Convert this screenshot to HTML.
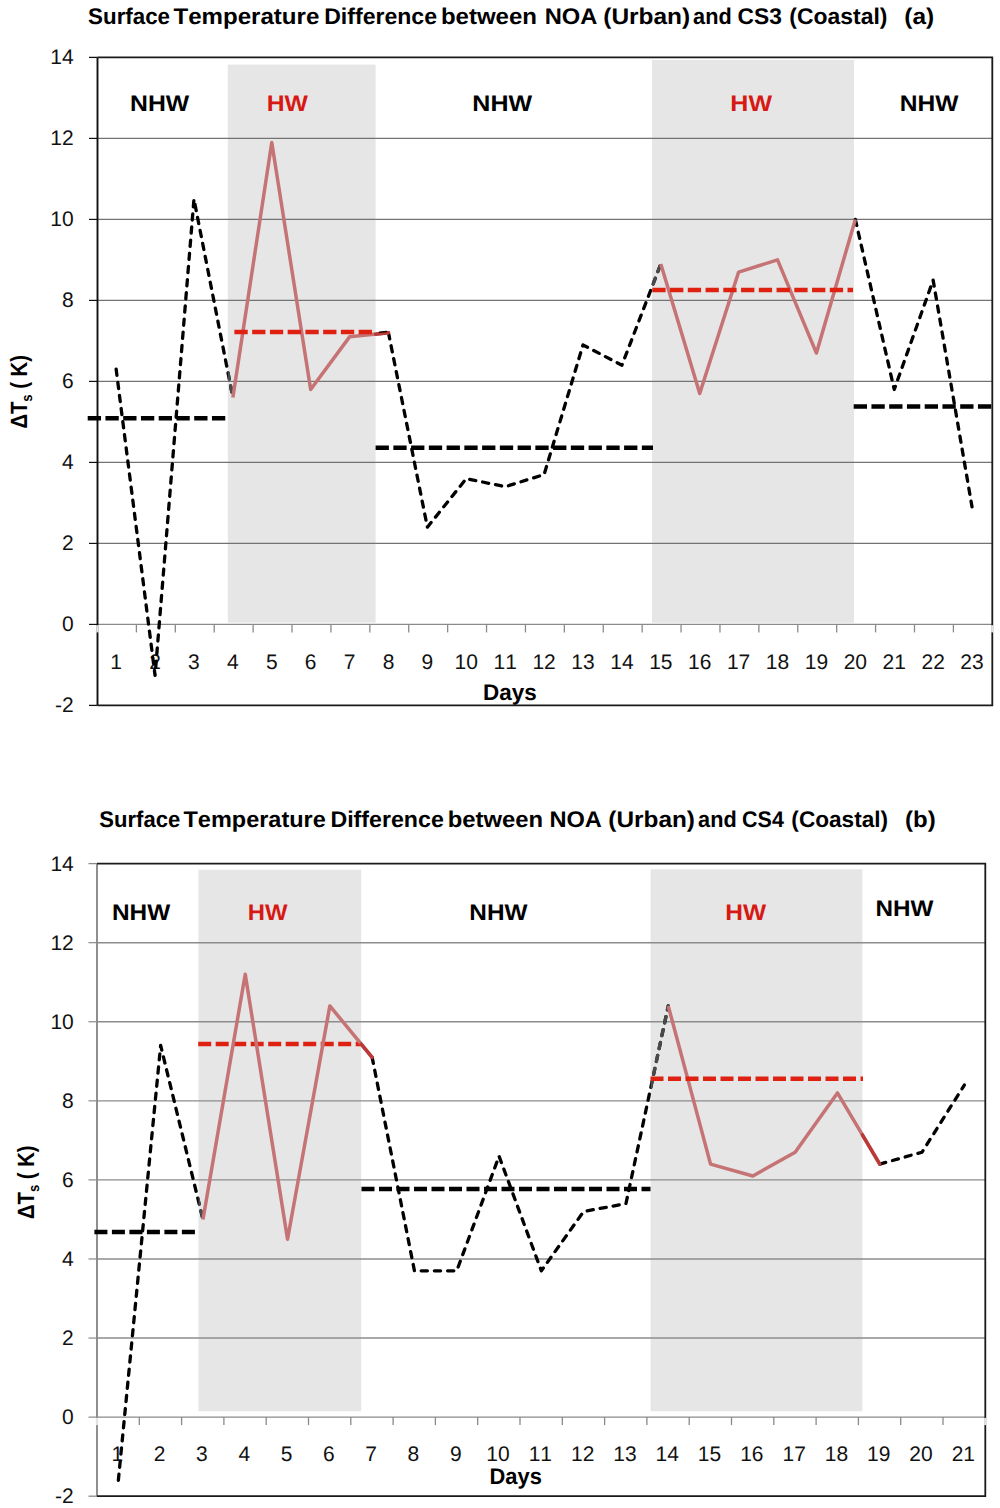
<!DOCTYPE html>
<html><head><meta charset="utf-8"><title>Surface Temperature Difference</title>
<style>html,body{margin:0;padding:0;background:#fff}svg{display:block}text{font-family:"Liberation Sans",sans-serif;text-rendering:geometricPrecision;font-kerning:none}</style>
</head><body>
<svg width="1000" height="1508" viewBox="0 0 1000 1508">
<rect width="1000" height="1508" fill="#fff"/>
<rect x="227.8" y="64.6" width="147.8" height="558" fill="#e6e6e6"/>
<rect x="652" y="60" width="202" height="562.8" fill="#e6e6e6"/>
<line x1="97.5" y1="138.4" x2="992.3" y2="138.4" stroke="#737373" stroke-width="1.1"/>
<line x1="89" y1="138.4" x2="97.5" y2="138.4" stroke="#111" stroke-width="1.2"/>
<line x1="97.5" y1="219.4" x2="992.3" y2="219.4" stroke="#737373" stroke-width="1.1"/>
<line x1="89" y1="219.4" x2="97.5" y2="219.4" stroke="#111" stroke-width="1.2"/>
<line x1="97.5" y1="300.4" x2="992.3" y2="300.4" stroke="#737373" stroke-width="1.1"/>
<line x1="89" y1="300.4" x2="97.5" y2="300.4" stroke="#111" stroke-width="1.2"/>
<line x1="97.5" y1="381.4" x2="992.3" y2="381.4" stroke="#737373" stroke-width="1.1"/>
<line x1="89" y1="381.4" x2="97.5" y2="381.4" stroke="#111" stroke-width="1.2"/>
<line x1="97.5" y1="462.4" x2="992.3" y2="462.4" stroke="#737373" stroke-width="1.1"/>
<line x1="89" y1="462.4" x2="97.5" y2="462.4" stroke="#111" stroke-width="1.2"/>
<line x1="97.5" y1="543.4" x2="992.3" y2="543.4" stroke="#737373" stroke-width="1.1"/>
<line x1="89" y1="543.4" x2="97.5" y2="543.4" stroke="#111" stroke-width="1.2"/>
<line x1="97.5" y1="624.4" x2="992.3" y2="624.4" stroke="#8a8a8a" stroke-width="1.3"/>
<line x1="89" y1="624.4" x2="97.5" y2="624.4" stroke="#111" stroke-width="1.2"/>
<line x1="136.4" y1="624.4" x2="136.4" y2="632.4" stroke="#8a8a8a" stroke-width="1.3"/>
<line x1="175.31" y1="624.4" x2="175.31" y2="632.4" stroke="#8a8a8a" stroke-width="1.3"/>
<line x1="214.21" y1="624.4" x2="214.21" y2="632.4" stroke="#8a8a8a" stroke-width="1.3"/>
<line x1="253.12" y1="624.4" x2="253.12" y2="632.4" stroke="#8a8a8a" stroke-width="1.3"/>
<line x1="292.02" y1="624.4" x2="292.02" y2="632.4" stroke="#8a8a8a" stroke-width="1.3"/>
<line x1="330.93" y1="624.4" x2="330.93" y2="632.4" stroke="#8a8a8a" stroke-width="1.3"/>
<line x1="369.83" y1="624.4" x2="369.83" y2="632.4" stroke="#8a8a8a" stroke-width="1.3"/>
<line x1="408.73" y1="624.4" x2="408.73" y2="632.4" stroke="#8a8a8a" stroke-width="1.3"/>
<line x1="447.64" y1="624.4" x2="447.64" y2="632.4" stroke="#8a8a8a" stroke-width="1.3"/>
<line x1="486.54" y1="624.4" x2="486.54" y2="632.4" stroke="#8a8a8a" stroke-width="1.3"/>
<line x1="525.45" y1="624.4" x2="525.45" y2="632.4" stroke="#8a8a8a" stroke-width="1.3"/>
<line x1="564.35" y1="624.4" x2="564.35" y2="632.4" stroke="#8a8a8a" stroke-width="1.3"/>
<line x1="603.26" y1="624.4" x2="603.26" y2="632.4" stroke="#8a8a8a" stroke-width="1.3"/>
<line x1="642.16" y1="624.4" x2="642.16" y2="632.4" stroke="#8a8a8a" stroke-width="1.3"/>
<line x1="681.07" y1="624.4" x2="681.07" y2="632.4" stroke="#8a8a8a" stroke-width="1.3"/>
<line x1="719.97" y1="624.4" x2="719.97" y2="632.4" stroke="#8a8a8a" stroke-width="1.3"/>
<line x1="758.87" y1="624.4" x2="758.87" y2="632.4" stroke="#8a8a8a" stroke-width="1.3"/>
<line x1="797.78" y1="624.4" x2="797.78" y2="632.4" stroke="#8a8a8a" stroke-width="1.3"/>
<line x1="836.68" y1="624.4" x2="836.68" y2="632.4" stroke="#8a8a8a" stroke-width="1.3"/>
<line x1="875.59" y1="624.4" x2="875.59" y2="632.4" stroke="#8a8a8a" stroke-width="1.3"/>
<line x1="914.49" y1="624.4" x2="914.49" y2="632.4" stroke="#8a8a8a" stroke-width="1.3"/>
<line x1="953.4" y1="624.4" x2="953.4" y2="632.4" stroke="#8a8a8a" stroke-width="1.3"/>
<line x1="97.5" y1="57.4" x2="97.5" y2="705.4" stroke="#111" stroke-width="1.9"/>
<line x1="89" y1="57.4" x2="97.5" y2="57.4" stroke="#111" stroke-width="1.3"/>
<line x1="89" y1="705.4" x2="97.5" y2="705.4" stroke="#111" stroke-width="1.3"/>
<path d="M97.5 57.4 H992.3 V705.4 H97.5" fill="none" stroke="#1a1a1a" stroke-width="1.8"/>
<line x1="97.5" y1="625.2" x2="97.5" y2="632.4" stroke="#e4e4e4" stroke-width="2.4"/>
<line x1="992.3" y1="625.2" x2="992.3" y2="632.4" stroke="#e4e4e4" stroke-width="2.4"/>
<text x="73.6" y="63.9" font-size="21" text-anchor="end" fill="#111">14</text>
<text x="73.6" y="144.9" font-size="21" text-anchor="end" fill="#111">12</text>
<text x="73.6" y="225.9" font-size="21" text-anchor="end" fill="#111">10</text>
<text x="73.6" y="306.9" font-size="21" text-anchor="end" fill="#111">8</text>
<text x="73.6" y="387.9" font-size="21" text-anchor="end" fill="#111">6</text>
<text x="73.6" y="468.9" font-size="21" text-anchor="end" fill="#111">4</text>
<text x="73.6" y="549.9" font-size="21" text-anchor="end" fill="#111">2</text>
<text x="73.6" y="630.9" font-size="21" text-anchor="end" fill="#111">0</text>
<text x="73.6" y="711.9" font-size="21" text-anchor="end" fill="#111">-2</text>
<text x="116.15" y="669.3" font-size="21" text-anchor="middle" fill="#111">1</text>
<text x="155.06" y="669.3" font-size="21" text-anchor="middle" fill="#111">2</text>
<text x="193.96" y="669.3" font-size="21" text-anchor="middle" fill="#111">3</text>
<text x="232.87" y="669.3" font-size="21" text-anchor="middle" fill="#111">4</text>
<text x="271.77" y="669.3" font-size="21" text-anchor="middle" fill="#111">5</text>
<text x="310.67" y="669.3" font-size="21" text-anchor="middle" fill="#111">6</text>
<text x="349.58" y="669.3" font-size="21" text-anchor="middle" fill="#111">7</text>
<text x="388.48" y="669.3" font-size="21" text-anchor="middle" fill="#111">8</text>
<text x="427.39" y="669.3" font-size="21" text-anchor="middle" fill="#111">9</text>
<text x="466.29" y="669.3" font-size="21" text-anchor="middle" fill="#111">10</text>
<text x="505.2" y="669.3" font-size="21" text-anchor="middle" fill="#111">11</text>
<text x="544.1" y="669.3" font-size="21" text-anchor="middle" fill="#111">12</text>
<text x="583" y="669.3" font-size="21" text-anchor="middle" fill="#111">13</text>
<text x="621.91" y="669.3" font-size="21" text-anchor="middle" fill="#111">14</text>
<text x="660.81" y="669.3" font-size="21" text-anchor="middle" fill="#111">15</text>
<text x="699.72" y="669.3" font-size="21" text-anchor="middle" fill="#111">16</text>
<text x="738.62" y="669.3" font-size="21" text-anchor="middle" fill="#111">17</text>
<text x="777.53" y="669.3" font-size="21" text-anchor="middle" fill="#111">18</text>
<text x="816.43" y="669.3" font-size="21" text-anchor="middle" fill="#111">19</text>
<text x="855.33" y="669.3" font-size="21" text-anchor="middle" fill="#111">20</text>
<text x="894.24" y="669.3" font-size="21" text-anchor="middle" fill="#111">21</text>
<text x="933.14" y="669.3" font-size="21" text-anchor="middle" fill="#111">22</text>
<text x="972.05" y="669.3" font-size="21" text-anchor="middle" fill="#111">23</text>
<clipPath id="ga"><rect x="227.8" y="64.6" width="147.8" height="558"/><rect x="652" y="60" width="202" height="562.8"/></clipPath>
<path d="M116.15 369.25 L155.06 675.43 L193.96 199.15 L232.87 397.6" fill="none" stroke-width="3.3" stroke-dasharray="6.2 7" stroke-linecap="round" stroke-linejoin="round" stroke="#000000"/>
<path d="M116.15 369.25 L155.06 675.43 L193.96 199.15 L232.87 397.6" fill="none" stroke-width="3.3" stroke-dasharray="6.2 7" stroke-linecap="round" stroke-linejoin="round" stroke="#4a4a4a" clip-path="url(#ga)"/>
<path d="M388.48 332.8 L427.39 527.2 L466.29 478.6 L505.2 486.7 L544.1 474.55 L583 344.95 L621.91 365.2 L660.81 263.95" fill="none" stroke-width="3.3" stroke-dasharray="6.2 7" stroke-linecap="round" stroke-linejoin="round" stroke="#000000"/>
<path d="M388.48 332.8 L427.39 527.2 L466.29 478.6 L505.2 486.7 L544.1 474.55 L583 344.95 L621.91 365.2 L660.81 263.95" fill="none" stroke-width="3.3" stroke-dasharray="6.2 7" stroke-linecap="round" stroke-linejoin="round" stroke="#4a4a4a" clip-path="url(#ga)"/>
<path d="M855.33 219.4 L894.24 389.5 L933.14 280.15 L972.05 506.95" fill="none" stroke-width="3.3" stroke-dasharray="6.2 7" stroke-linecap="round" stroke-linejoin="round" stroke="#000000"/>
<path d="M855.33 219.4 L894.24 389.5 L933.14 280.15 L972.05 506.95" fill="none" stroke-width="3.3" stroke-dasharray="6.2 7" stroke-linecap="round" stroke-linejoin="round" stroke="#4a4a4a" clip-path="url(#ga)"/>
<path d="M232.87 397.6 L271.77 142.45 L310.67 389.5 L349.58 336.85 L388.48 332.8" fill="none" stroke="#c57374" stroke-width="3.5" stroke-linejoin="round"/>
<path d="M660.81 263.95 L699.72 393.55 L738.62 272.05 L777.53 259.9 L816.43 353.05 L855.33 219.4" fill="none" stroke="#c57374" stroke-width="3.5" stroke-linejoin="round"/>
<line x1="375.6" y1="334.14" x2="388.48" y2="332.8" stroke="#bb3a38" stroke-width="3.5" stroke-linecap="round"/>
<line x1="379.5" y1="332.3" x2="386.5" y2="331.5" stroke="#1a0a0a" stroke-width="1.6" stroke-linecap="round"/>
<line x1="87.7" y1="418.25" x2="226" y2="418.25" stroke="#000000" stroke-width="4.6" stroke-dasharray="13.3 4.45"/>
<line x1="234.4" y1="331.99" x2="372.5" y2="331.99" stroke="#de2110" stroke-width="4.6" stroke-dasharray="13.3 4.45"/>
<line x1="375.6" y1="447.82" x2="653" y2="447.82" stroke="#000000" stroke-width="4.6" stroke-dasharray="13.3 4.45"/>
<line x1="652.3" y1="290.07" x2="853" y2="290.07" stroke="#de2110" stroke-width="4.6" stroke-dasharray="13.3 4.45"/>
<line x1="853.7" y1="406.51" x2="992" y2="406.51" stroke="#000000" stroke-width="4.6" stroke-dasharray="13.3 4.45"/>
<text x="88.11" y="23.8" font-size="22.7" font-weight="bold" fill="#000" textLength="81.91" lengthAdjust="spacingAndGlyphs">Surface</text>
<text x="173.48" y="23.8" font-size="22.7" font-weight="bold" fill="#000" textLength="145.84" lengthAdjust="spacingAndGlyphs">Temperature</text>
<text x="324.21" y="23.8" font-size="22.7" font-weight="bold" fill="#000" textLength="112.83" lengthAdjust="spacingAndGlyphs">Difference</text>
<text x="440.92" y="23.8" font-size="22.7" font-weight="bold" fill="#000" textLength="96.07" lengthAdjust="spacingAndGlyphs">between</text>
<text x="544.66" y="23.8" font-size="22.7" font-weight="bold" fill="#000" textLength="52.71" lengthAdjust="spacingAndGlyphs">NOA</text>
<text x="603.28" y="23.8" font-size="22.7" font-weight="bold" fill="#000" textLength="86.94" lengthAdjust="spacingAndGlyphs">(Urban)</text>
<text x="693.11" y="23.8" font-size="22.7" font-weight="bold" fill="#000" textLength="38.57" lengthAdjust="spacingAndGlyphs">and</text>
<text x="737.57" y="23.8" font-size="22.7" font-weight="bold" fill="#000" textLength="44.26" lengthAdjust="spacingAndGlyphs">CS3</text>
<text x="789.36" y="23.8" font-size="22.7" font-weight="bold" fill="#000" textLength="98.03" lengthAdjust="spacingAndGlyphs">(Coastal)</text>
<text x="904.28" y="23.8" font-size="22.7" font-weight="bold" fill="#000" textLength="29.94" lengthAdjust="spacingAndGlyphs">(a)</text>
<text x="130.09" y="111.3" font-size="22.7" font-weight="bold" fill="#000" textLength="59.18" lengthAdjust="spacingAndGlyphs">NHW</text>
<text x="266.74" y="111.3" font-size="22.7" font-weight="bold" fill="#d71914" textLength="41.28" lengthAdjust="spacingAndGlyphs">HW</text>
<text x="472.33" y="111.3" font-size="22.7" font-weight="bold" fill="#000" textLength="59.7" lengthAdjust="spacingAndGlyphs">NHW</text>
<text x="730.33" y="111.3" font-size="22.7" font-weight="bold" fill="#d71914" textLength="41.7" lengthAdjust="spacingAndGlyphs">HW</text>
<text x="899.86" y="111.3" font-size="22.7" font-weight="bold" fill="#000" textLength="58.67" lengthAdjust="spacingAndGlyphs">NHW</text>
<text x="483" y="700" font-size="22.7" font-weight="bold" fill="#000" textLength="53.67" lengthAdjust="spacingAndGlyphs">Days</text>
<rect x="198.5" y="869.7" width="162.7" height="541.5" fill="#e6e6e6"/>
<rect x="650.6" y="869.3" width="211.8" height="541.9" fill="#e6e6e6"/>
<line x1="97" y1="942.68" x2="985.3" y2="942.68" stroke="#8c8c8c" stroke-width="1.4"/>
<line x1="88.5" y1="942.68" x2="97" y2="942.68" stroke="#8a8a8a" stroke-width="1.2"/>
<line x1="97" y1="1021.75" x2="985.3" y2="1021.75" stroke="#8c8c8c" stroke-width="1.4"/>
<line x1="88.5" y1="1021.75" x2="97" y2="1021.75" stroke="#8a8a8a" stroke-width="1.2"/>
<line x1="97" y1="1100.83" x2="985.3" y2="1100.83" stroke="#8c8c8c" stroke-width="1.4"/>
<line x1="88.5" y1="1100.83" x2="97" y2="1100.83" stroke="#8a8a8a" stroke-width="1.2"/>
<line x1="97" y1="1179.9" x2="985.3" y2="1179.9" stroke="#8c8c8c" stroke-width="1.4"/>
<line x1="88.5" y1="1179.9" x2="97" y2="1179.9" stroke="#8a8a8a" stroke-width="1.2"/>
<line x1="97" y1="1258.97" x2="985.3" y2="1258.97" stroke="#8c8c8c" stroke-width="1.4"/>
<line x1="88.5" y1="1258.97" x2="97" y2="1258.97" stroke="#8a8a8a" stroke-width="1.2"/>
<line x1="97" y1="1338.05" x2="985.3" y2="1338.05" stroke="#8c8c8c" stroke-width="1.4"/>
<line x1="88.5" y1="1338.05" x2="97" y2="1338.05" stroke="#8a8a8a" stroke-width="1.2"/>
<line x1="97" y1="1417.12" x2="985.3" y2="1417.12" stroke="#8a8a8a" stroke-width="1.3"/>
<line x1="88.5" y1="1417.12" x2="97" y2="1417.12" stroke="#8a8a8a" stroke-width="1.2"/>
<line x1="139.3" y1="1417.12" x2="139.3" y2="1425.12" stroke="#8a8a8a" stroke-width="1.3"/>
<line x1="181.6" y1="1417.12" x2="181.6" y2="1425.12" stroke="#8a8a8a" stroke-width="1.3"/>
<line x1="223.9" y1="1417.12" x2="223.9" y2="1425.12" stroke="#8a8a8a" stroke-width="1.3"/>
<line x1="266.2" y1="1417.12" x2="266.2" y2="1425.12" stroke="#8a8a8a" stroke-width="1.3"/>
<line x1="308.5" y1="1417.12" x2="308.5" y2="1425.12" stroke="#8a8a8a" stroke-width="1.3"/>
<line x1="350.8" y1="1417.12" x2="350.8" y2="1425.12" stroke="#8a8a8a" stroke-width="1.3"/>
<line x1="393.1" y1="1417.12" x2="393.1" y2="1425.12" stroke="#8a8a8a" stroke-width="1.3"/>
<line x1="435.4" y1="1417.12" x2="435.4" y2="1425.12" stroke="#8a8a8a" stroke-width="1.3"/>
<line x1="477.7" y1="1417.12" x2="477.7" y2="1425.12" stroke="#8a8a8a" stroke-width="1.3"/>
<line x1="520" y1="1417.12" x2="520" y2="1425.12" stroke="#8a8a8a" stroke-width="1.3"/>
<line x1="562.3" y1="1417.12" x2="562.3" y2="1425.12" stroke="#8a8a8a" stroke-width="1.3"/>
<line x1="604.6" y1="1417.12" x2="604.6" y2="1425.12" stroke="#8a8a8a" stroke-width="1.3"/>
<line x1="646.9" y1="1417.12" x2="646.9" y2="1425.12" stroke="#8a8a8a" stroke-width="1.3"/>
<line x1="689.2" y1="1417.12" x2="689.2" y2="1425.12" stroke="#8a8a8a" stroke-width="1.3"/>
<line x1="731.5" y1="1417.12" x2="731.5" y2="1425.12" stroke="#8a8a8a" stroke-width="1.3"/>
<line x1="773.8" y1="1417.12" x2="773.8" y2="1425.12" stroke="#8a8a8a" stroke-width="1.3"/>
<line x1="816.1" y1="1417.12" x2="816.1" y2="1425.12" stroke="#8a8a8a" stroke-width="1.3"/>
<line x1="858.4" y1="1417.12" x2="858.4" y2="1425.12" stroke="#8a8a8a" stroke-width="1.3"/>
<line x1="900.7" y1="1417.12" x2="900.7" y2="1425.12" stroke="#8a8a8a" stroke-width="1.3"/>
<line x1="943" y1="1417.12" x2="943" y2="1425.12" stroke="#8a8a8a" stroke-width="1.3"/>
<line x1="97" y1="863.6" x2="97" y2="1496.2" stroke="#8a8a8a" stroke-width="1.9"/>
<line x1="88.5" y1="863.6" x2="97" y2="863.6" stroke="#8a8a8a" stroke-width="1.3"/>
<line x1="88.5" y1="1496.2" x2="97" y2="1496.2" stroke="#8a8a8a" stroke-width="1.3"/>
<path d="M97 863.6 H985.3 V1496.2 H97" fill="none" stroke="#1a1a1a" stroke-width="1.8"/>
<line x1="97" y1="1417.92" x2="97" y2="1425.12" stroke="#e4e4e4" stroke-width="2.4"/>
<line x1="985.3" y1="1417.92" x2="985.3" y2="1425.12" stroke="#e4e4e4" stroke-width="2.4"/>
<text x="73.8" y="870.8" font-size="21" text-anchor="end" fill="#111">14</text>
<text x="73.8" y="949.88" font-size="21" text-anchor="end" fill="#111">12</text>
<text x="73.8" y="1028.95" font-size="21" text-anchor="end" fill="#111">10</text>
<text x="73.8" y="1108.03" font-size="21" text-anchor="end" fill="#111">8</text>
<text x="73.8" y="1187.1" font-size="21" text-anchor="end" fill="#111">6</text>
<text x="73.8" y="1266.17" font-size="21" text-anchor="end" fill="#111">4</text>
<text x="73.8" y="1345.25" font-size="21" text-anchor="end" fill="#111">2</text>
<text x="73.8" y="1424.33" font-size="21" text-anchor="end" fill="#111">0</text>
<text x="73.8" y="1503.4" font-size="21" text-anchor="end" fill="#111">-2</text>
<text x="117.35" y="1461" font-size="21" text-anchor="middle" fill="#111">1</text>
<text x="159.65" y="1461" font-size="21" text-anchor="middle" fill="#111">2</text>
<text x="201.95" y="1461" font-size="21" text-anchor="middle" fill="#111">3</text>
<text x="244.25" y="1461" font-size="21" text-anchor="middle" fill="#111">4</text>
<text x="286.55" y="1461" font-size="21" text-anchor="middle" fill="#111">5</text>
<text x="328.85" y="1461" font-size="21" text-anchor="middle" fill="#111">6</text>
<text x="371.15" y="1461" font-size="21" text-anchor="middle" fill="#111">7</text>
<text x="413.45" y="1461" font-size="21" text-anchor="middle" fill="#111">8</text>
<text x="455.75" y="1461" font-size="21" text-anchor="middle" fill="#111">9</text>
<text x="498.05" y="1461" font-size="21" text-anchor="middle" fill="#111">10</text>
<text x="540.35" y="1461" font-size="21" text-anchor="middle" fill="#111">11</text>
<text x="582.65" y="1461" font-size="21" text-anchor="middle" fill="#111">12</text>
<text x="624.95" y="1461" font-size="21" text-anchor="middle" fill="#111">13</text>
<text x="667.25" y="1461" font-size="21" text-anchor="middle" fill="#111">14</text>
<text x="709.55" y="1461" font-size="21" text-anchor="middle" fill="#111">15</text>
<text x="751.85" y="1461" font-size="21" text-anchor="middle" fill="#111">16</text>
<text x="794.15" y="1461" font-size="21" text-anchor="middle" fill="#111">17</text>
<text x="836.45" y="1461" font-size="21" text-anchor="middle" fill="#111">18</text>
<text x="878.75" y="1461" font-size="21" text-anchor="middle" fill="#111">19</text>
<text x="921.05" y="1461" font-size="21" text-anchor="middle" fill="#111">20</text>
<text x="963.35" y="1461" font-size="21" text-anchor="middle" fill="#111">21</text>
<clipPath id="gb"><rect x="198.5" y="869.7" width="162.7" height="541.5"/><rect x="650.6" y="869.3" width="211.8" height="541.9"/></clipPath>
<path d="M118.35 1480.38 L160.65 1045.47 L202.95 1219.44" fill="none" stroke-width="3.3" stroke-dasharray="6.2 7" stroke-linecap="round" stroke-linejoin="round" stroke="#000000"/>
<path d="M118.35 1480.38 L160.65 1045.47 L202.95 1219.44" fill="none" stroke-width="3.3" stroke-dasharray="6.2 7" stroke-linecap="round" stroke-linejoin="round" stroke="#4a4a4a" clip-path="url(#gb)"/>
<path d="M372.15 1057.33 L414.45 1270.84 L456.75 1270.84 L499.05 1156.18 L541.35 1270.84 L583.65 1211.53 L625.95 1203.62 L668.25 1005.93" fill="none" stroke-width="3.3" stroke-dasharray="6.2 7" stroke-linecap="round" stroke-linejoin="round" stroke="#000000"/>
<path d="M372.15 1057.33 L414.45 1270.84 L456.75 1270.84 L499.05 1156.18 L541.35 1270.84 L583.65 1211.53 L625.95 1203.62 L668.25 1005.93" fill="none" stroke-width="3.3" stroke-dasharray="6.2 7" stroke-linecap="round" stroke-linejoin="round" stroke="#4a4a4a" clip-path="url(#gb)"/>
<path d="M879.75 1164.09 L922.05 1152.22 L964.35 1085.01" fill="none" stroke-width="3.3" stroke-dasharray="6.2 7" stroke-linecap="round" stroke-linejoin="round" stroke="#000000"/>
<path d="M879.75 1164.09 L922.05 1152.22 L964.35 1085.01" fill="none" stroke-width="3.3" stroke-dasharray="6.2 7" stroke-linecap="round" stroke-linejoin="round" stroke="#4a4a4a" clip-path="url(#gb)"/>
<line x1="198.2" y1="1043.89" x2="362" y2="1043.89" stroke="#de2110" stroke-width="4.5" stroke-dasharray="13 4.5"/>
<path d="M202.95 1219.44 L245.25 974.31 L287.55 1239.21 L329.85 1005.93 L372.15 1057.33" fill="none" stroke="#c57374" stroke-width="3.5" stroke-linejoin="round"/>
<path d="M668.25 1005.93 L710.55 1164.09 L752.85 1175.95 L795.15 1152.22 L837.45 1092.92 L879.75 1164.09" fill="none" stroke="#c57374" stroke-width="3.5" stroke-linejoin="round"/>
<line x1="361.2" y1="1044.03" x2="372.15" y2="1057.33" stroke="#bb3a38" stroke-width="3.5" stroke-linecap="round"/>
<line x1="862.4" y1="1134.89" x2="879.75" y2="1164.09" stroke="#bb3a38" stroke-width="3.5" stroke-linecap="round"/>
<line x1="94.4" y1="1232.09" x2="195.5" y2="1232.09" stroke="#000000" stroke-width="4.5" stroke-dasharray="13 4.5"/>
<line x1="361.5" y1="1188.99" x2="650.5" y2="1188.99" stroke="#000000" stroke-width="4.5" stroke-dasharray="13 4.5"/>
<line x1="650.5" y1="1078.68" x2="863" y2="1078.68" stroke="#de2110" stroke-width="4.5" stroke-dasharray="13 4.5"/>
<text x="99.36" y="827.2" font-size="22.7" font-weight="bold" fill="#000" textLength="80.89" lengthAdjust="spacingAndGlyphs">Surface</text>
<text x="183.49" y="827.2" font-size="22.7" font-weight="bold" fill="#000" textLength="142.32" lengthAdjust="spacingAndGlyphs">Temperature</text>
<text x="330.45" y="827.2" font-size="22.7" font-weight="bold" fill="#000" textLength="113.34" lengthAdjust="spacingAndGlyphs">Difference</text>
<text x="447.68" y="827.2" font-size="22.7" font-weight="bold" fill="#000" textLength="95.3" lengthAdjust="spacingAndGlyphs">between</text>
<text x="549.42" y="827.2" font-size="22.7" font-weight="bold" fill="#000" textLength="52.45" lengthAdjust="spacingAndGlyphs">NOA</text>
<text x="608.29" y="827.2" font-size="22.7" font-weight="bold" fill="#000" textLength="86.68" lengthAdjust="spacingAndGlyphs">(Urban)</text>
<text x="698.11" y="827.2" font-size="22.7" font-weight="bold" fill="#000" textLength="38.57" lengthAdjust="spacingAndGlyphs">and</text>
<text x="742.12" y="827.2" font-size="22.7" font-weight="bold" fill="#000" textLength="41.75" lengthAdjust="spacingAndGlyphs">CS4</text>
<text x="791.37" y="827.2" font-size="22.7" font-weight="bold" fill="#000" textLength="96.75" lengthAdjust="spacingAndGlyphs">(Coastal)</text>
<text x="905.05" y="827.2" font-size="22.7" font-weight="bold" fill="#000" textLength="30.64" lengthAdjust="spacingAndGlyphs">(b)</text>
<text x="111.97" y="919.8" font-size="22.7" font-weight="bold" fill="#000" textLength="58.26" lengthAdjust="spacingAndGlyphs">NHW</text>
<text x="247.81" y="919.8" font-size="22.7" font-weight="bold" fill="#d71914" textLength="39.72" lengthAdjust="spacingAndGlyphs">HW</text>
<text x="469.37" y="919.8" font-size="22.7" font-weight="bold" fill="#000" textLength="58.15" lengthAdjust="spacingAndGlyphs">NHW</text>
<text x="725.26" y="920.3" font-size="22.7" font-weight="bold" fill="#d71914" textLength="40.86" lengthAdjust="spacingAndGlyphs">HW</text>
<text x="875.48" y="915.5" font-size="22.7" font-weight="bold" fill="#000" textLength="57.95" lengthAdjust="spacingAndGlyphs">NHW</text>
<text x="489.53" y="1483.6" font-size="22.7" font-weight="bold" fill="#000" textLength="52.36" lengthAdjust="spacingAndGlyphs">Days</text>
<g transform="translate(26.6 428.6) rotate(-90)"><text x="0" y="0" font-size="23.5" font-weight="bold" fill="#000" textLength="73.6" lengthAdjust="spacingAndGlyphs" xml:space="preserve">ΔT<tspan font-size="15" dy="5">s</tspan><tspan dy="-5"> ( K)</tspan></text></g>
<g transform="translate(33.6 1219) rotate(-90)"><text x="0" y="0" font-size="23.5" font-weight="bold" fill="#000" textLength="73.6" lengthAdjust="spacingAndGlyphs" xml:space="preserve">ΔT<tspan font-size="15" dy="5">s</tspan><tspan dy="-5"> ( K)</tspan></text></g>
</svg>
</body></html>
